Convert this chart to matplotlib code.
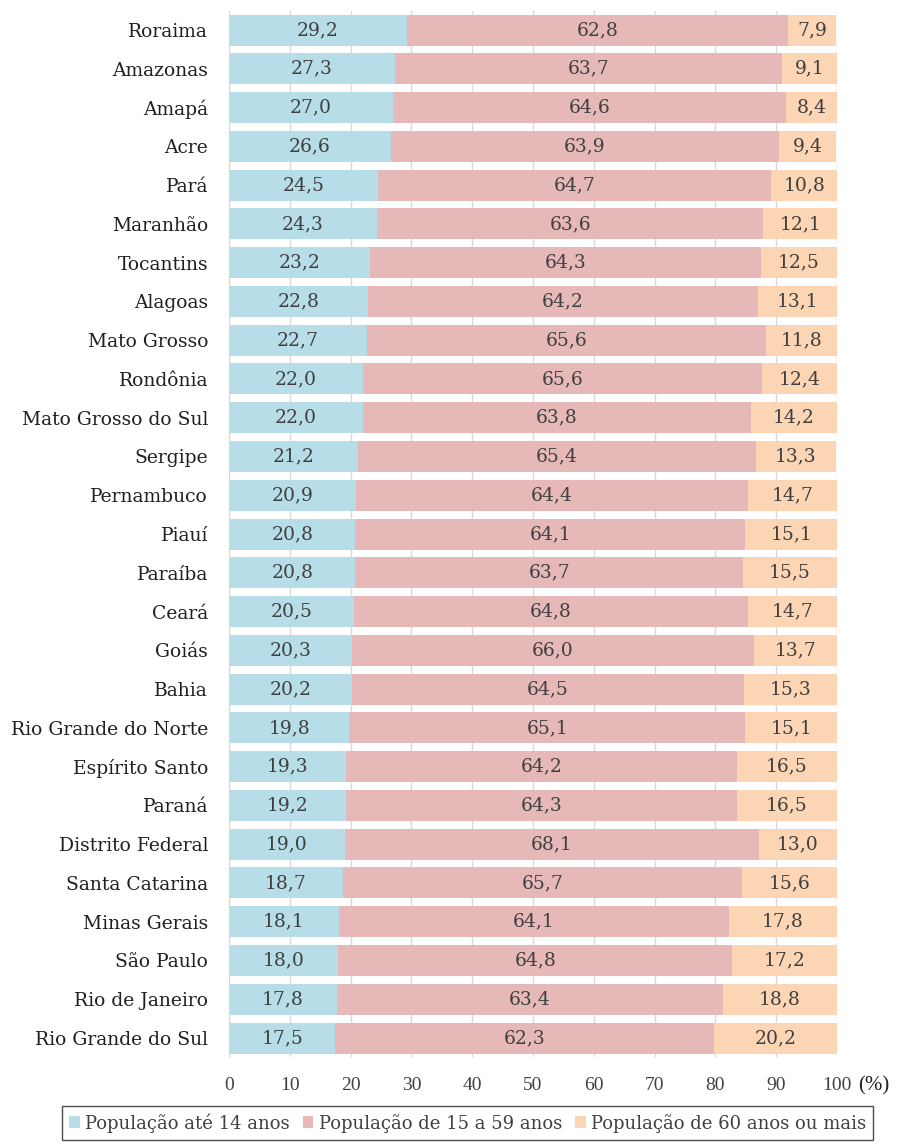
import matplotlib.pyplot as plt
import numpy as np

states = ['Roraima', 'Amazonas', 'Amapá', 'Acre', 'Pará', 'Maranhão', 'Tocantins',
          'Alagoas', 'Mato Grosso', 'Rondônia', 'Mato Grosso do Sul', 'Sergipe',
          'Pernambuco', 'Piauí', 'Paraíba', 'Ceará', 'Goiás', 'Bahia',
          'Rio Grande do Norte', 'Espírito Santo', 'Paraná', 'Distrito Federal',
          'Santa Catarina', 'Minas Gerais', 'São Paulo', 'Rio de Janeiro',
          'Rio Grande do Sul']
ate14 = [29.2, 27.3, 27.0, 26.6, 24.5, 24.3, 23.2, 22.8, 22.7, 22.0, 22.0, 21.2,
         20.9, 20.8, 20.8, 20.5, 20.3, 20.2, 19.8, 19.3, 19.2, 19.0, 18.7, 18.1,
         18.0, 17.8, 17.5]
de15a59 = [62.8, 63.7, 64.6, 63.9, 64.7, 63.6, 64.3, 64.2, 65.6, 65.6, 63.8, 65.4,
           64.4, 64.1, 63.7, 64.8, 66.0, 64.5, 65.1, 64.2, 64.3, 68.1, 65.7, 64.1,
           64.8, 63.4, 62.3]
mais60 = [7.9, 9.1, 8.4, 9.4, 10.8, 12.1, 12.5, 13.1, 11.8, 12.4, 14.2, 13.3,
          14.7, 15.1, 15.5, 14.7, 13.7, 15.3, 15.1, 16.5, 16.5, 13.0, 15.6, 17.8,
          17.2, 18.8, 20.2]
series_names = ['População até 14 anos', 'População de 15 a 59 anos',
                'População de 60 anos ou mais']
colors = ['#b7dde8', '#e6b9b8', '#fcd5b5']

plt.rcParams['font.family'] = ['DejaVu Serif']
text_color = '#404040'

fig = plt.figure(figsize=(9.01, 11.44), dpi=100)
ax = fig.add_axes([0.2542, 0.0757, 0.6748, 0.915])

y = np.arange(len(states))
left = np.zeros(len(states))
for vals, col, name in zip([ate14, de15a59, mais60], colors, series_names):
    vals = np.array(vals)
    ax.barh(y, vals, left=left, height=0.8, color=col, label=name, zorder=2)
    for yi, l, v in zip(y, left, vals):
        ax.text(l + v / 2, yi, f'{v:.1f}'.replace('.', ','), ha='center', va='center',
                fontsize=13.5, color=text_color, zorder=3)
    left = left + vals

ax.set_ylim(len(states) - 0.5, -0.5)
ax.set_xlim(0, 100)
ax.set_xticks(range(0, 101, 10))
ax.set_yticks(y)
ax.set_yticklabels(states, fontsize=13.5, color='#202020')
for lbl in ax.get_xticklabels():
    lbl.set_family('Liberation Serif')
ax.tick_params(axis='x', labelsize=14, colors=text_color, length=0, pad=14)
ax.tick_params(axis='y', length=0, pad=15)
ax.grid(axis='x', color='#d9d9d9', linewidth=1, zorder=0)
for s in ['top', 'right', 'bottom']:
    ax.spines[s].set_visible(False)
ax.spines['left'].set_color('#d9d9d9')

ax.text(103.4, len(states) - 0.5 + 0.74, '(%)', fontsize=15, color='#202020',
        family='Liberation Serif', ha='left', va='center')

leg = fig.legend(loc='center', bbox_to_anchor=(0.519, 0.0185), ncol=3, fontsize=13,
                 frameon=True, fancybox=False, edgecolor='#202020',
                 handlelength=0.6, handleheight=0.6, handletextpad=0.3,
                 columnspacing=0.7, borderpad=0.4)
leg.get_frame().set_linewidth(1)
for t in leg.get_texts():
    t.set_color(text_color)

fig.savefig('out.png', dpi=100)
